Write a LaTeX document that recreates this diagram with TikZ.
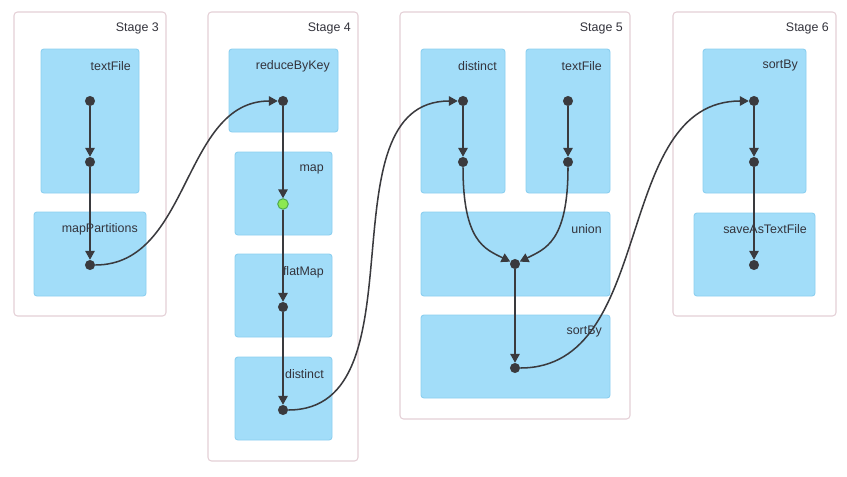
\documentclass[tikz,border=0pt]{standalone}
\usepackage{fontspec}
\setmainfont{Liberation Sans}
\usetikzlibrary{arrows.meta}
\definecolor{stageline}{RGB}{228,208,214}
\definecolor{opfill}{RGB}{162,221,249}
\definecolor{opline}{RGB}{140,207,240}
\definecolor{dotgray}{RGB}{58,58,62}
\definecolor{dotgreen}{RGB}{140,232,80}
\definecolor{textgray}{RGB}{51,51,60}
\begin{document}
\begin{tikzpicture}[x=0.03cm,y=-0.03cm,
  stagebox/.style={draw=stageline,line width=0.9pt,fill=white,rounded corners=3pt},
  opbox/.style={draw=opline,line width=0.8pt,fill=opfill,rounded corners=2.5pt},
  stagelabel/.style={anchor=east,inner sep=0pt,text=textgray,font=\fontsize{10.6}{12}\selectfont},
  oplabel/.style={anchor=east,inner sep=0pt,text=textgray,font=\fontsize{10.6}{12}\selectfont},
  dot/.style={circle,fill=dotgray,inner sep=0pt,minimum size=8.6pt},
  greendot/.style={circle,fill=dotgreen,draw=green!50!black!70,line width=0.8pt,inner sep=0pt,minimum size=9pt},
  flow/.style={draw=dotgray,line width=1.3pt,-{Triangle[length=7.5pt,width=8pt]}}]
\useasboundingbox (0,0) rectangle (847,476);
% stage boxes
\draw[stagebox] (14,12) rectangle (166,316);
\draw[stagebox] (208,12) rectangle (358,461);
\draw[stagebox] (400,12) rectangle (630,419);
\draw[stagebox] (673,12) rectangle (836,316);
\node[stagelabel] (st3) at (159,28) {Stage 3};
\node[stagelabel] (st4) at (351,28) {Stage 4};
\node[stagelabel] (st5) at (623,28) {Stage 5};
\node[stagelabel] (st6) at (829,28) {Stage 6};
% stage 3
\draw[opbox] (41,49) rectangle (139,193);
\node[oplabel] (tfa) at (131,66) {textFile};
\draw[opbox] (34,212) rectangle (146,296);
\node[oplabel] (mp) at (138,229) {mapPartitions};
% stage 4
\draw[opbox] (229,49) rectangle (338,132);
\node[oplabel] (rbk) at (330,66) {reduceByKey};
\draw[opbox] (235,152) rectangle (332,235);
\node[oplabel] (mapl) at (324,169) {map};
\draw[opbox] (235,254) rectangle (332,337);
\node[oplabel] (fm) at (324,272) {flatMap};
\draw[opbox] (235,357) rectangle (332,440);
\node[oplabel] (dsa) at (324,374) {distinct};
% stage 5
\draw[opbox] (421,49) rectangle (505,193);
\node[oplabel] (dsb) at (497,66) {distinct};
\draw[opbox] (526,49) rectangle (610,193);
\node[oplabel] (tfb) at (602,66) {textFile};
\draw[opbox] (421,212) rectangle (610,296);
\node[oplabel] (un) at (602,229) {union};
\draw[opbox] (421,315) rectangle (610,398);
\node[oplabel] (sba) at (602,332) {sortBy};
% stage 6
\draw[opbox] (703,49) rectangle (806,193);
\node[oplabel] (sbb) at (798,66) {sortBy};
\draw[opbox] (694,213) rectangle (815,296);
\node[oplabel] (sat) at (807,229) {saveAsTextFile};
% rdd dots
\node[dot] (a1) at (90,101) {};
\node[dot] (a2) at (90,162) {};
\node[dot] (a3) at (90,265) {};
\node[dot] (b1) at (283,101) {};
\node[greendot] (b2) at (283,204) {};
\node[dot] (b3) at (283,307) {};
\node[dot] (b4) at (283,410) {};
\node[dot] (c1) at (463,101) {};
\node[dot] (c2) at (463,162) {};
\node[dot] (d1) at (568,101) {};
\node[dot] (d2) at (568,162) {};
\node[dot] (c3) at (515,264) {};
\node[dot] (c4) at (515,368) {};
\node[dot] (e1) at (754,101) {};
\node[dot] (e2) at (754,162) {};
\node[dot] (e3) at (754,265) {};
% edges
\draw[flow] (a1) -- (a2);
\draw[flow] (a2) -- (a3);
\draw[flow] (a3) to[out=0,in=180] (b1);
\draw[flow] (b1) -- (b2);
\draw[flow] (b2) -- (b3);
\draw[flow] (b3) -- (b4);
\draw[flow] (b4) to[out=0,in=180] (c1);
\draw[flow] (c1) -- (c2);
\draw[flow] (d1) -- (d2);
\draw[flow] (c2) .. controls +(0,80) and +(-30,-15) .. (c3);
\draw[flow] (d2) .. controls +(0,80) and +(30,-15) .. (c3);
\draw[flow] (c3) -- (c4);
\draw[flow] (c4) to[out=0,in=180] (e1);
\draw[flow] (e1) -- (e2);
\draw[flow] (e2) -- (e3);
\end{tikzpicture}
\end{document}
